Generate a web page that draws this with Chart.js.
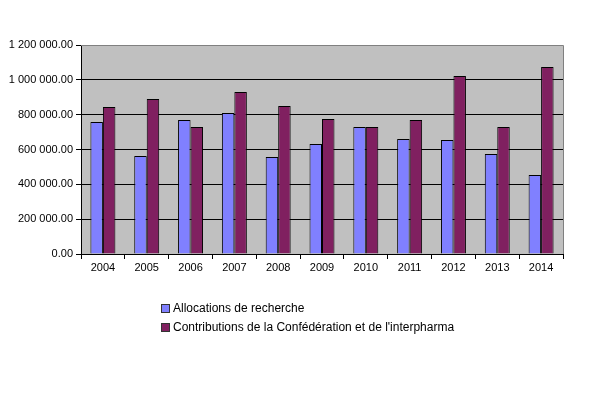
<!DOCTYPE html>
<html>
<head>
<meta charset="utf-8">
<script src="https://cdn.jsdelivr.net/npm/chart.js@4"></script>
<style>
  body { margin: 0; background: #fff; }
  #wrap { position: relative; width: 604px; height: 411px; }
  #legend { position: absolute; left: 161px; top: 299px; font: 12px "Liberation Sans", Arial, sans-serif; color: #000; }
  #legend div { height: 19px; line-height: 19px; white-space: nowrap; }
  #legend span { display: inline-block; width: 7px; height: 7px; border: 1px solid #333; margin-right: 3px; vertical-align: -1px; }
</style>
</head>
<body>
<div id="wrap">
  <canvas id="myChart" width="604" height="411"></canvas>
  <div id="legend"></div>
</div>
<script>
    const years = ['2004', '2005', '2006', '2007', '2008', '2009', '2010', '2011', '2012', '2013', '2014']
    const allocations = [758000, 563000, 769000, 809000, 557000, 631000, 729000, 660000, 654000, 574000, 453000]
    const contributions = [844000, 890000, 729000, 930000, 850000, 775000, 729000, 769000, 1022000, 729000, 1073000]
    const seriesNames = ['Allocations de recherche', "Contributions de la Confédération et de l'interpharma"]
    const seriesColors = ['#8080FF', '#802060']

    // "1 200 000.00" style
    function fmt(v) {
      let s = Math.round(v).toString().replace(/\B(?=(\d{3})+(?!\d))/g, ' ')
      return s + '.00'
    }

    // grey plot background + grey top/right frame
    const plotFrame = {
      id: 'plotFrame',
      beforeDraw(chart) {
        const a = chart.chartArea
        const ctx = chart.ctx
        ctx.save()
        ctx.fillStyle = '#C0C0C0'
        ctx.fillRect(a.left, a.top, a.right - a.left, a.bottom - a.top)
        ctx.restore()
      },
      afterDraw(chart) {
        const a = chart.chartArea
        const ctx = chart.ctx
        ctx.save()
        ctx.strokeStyle = '#808080'
        ctx.lineWidth = 1
        ctx.beginPath()
        ctx.moveTo(a.left, a.top + 0.5)
        ctx.lineTo(a.right + 0.5, a.top + 0.5)
        ctx.lineTo(a.right + 0.5, a.bottom)
        ctx.stroke()
        ctx.restore()
      }
    }

    const data = {
      labels: years,
      datasets: [
        {
          label: seriesNames[0],
          data: allocations,
          backgroundColor: seriesColors[0],
          borderColor: '#000',
          borderWidth: 1,
          categoryPercentage: 0.57,
          barPercentage: 1.0
        },
        {
          label: seriesNames[1],
          data: contributions,
          backgroundColor: seriesColors[1],
          borderColor: '#000',
          borderWidth: 1,
          categoryPercentage: 0.57,
          barPercentage: 1.0
        }
      ]
    }

    const config = {
      type: 'bar',
      data: data,
      plugins: [plotFrame],
      options: {
        responsive: false,
        animation: false,
        layout: { padding: { left: 0, top: 45, right: 41, bottom: 135 } },
        plugins: {
          legend: { display: false },
          tooltip: { enabled: false }
        },
        scales: {
          x: {
            grid: { drawOnChartArea: false, drawTicks: true, tickLength: 5, color: '#000', offset: true },
            border: { color: '#000', width: 1 },
            ticks: { color: '#000', font: { family: 'Liberation Sans', size: 11 }, padding: 2, maxRotation: 0 },
            afterFit(scale) { scale.height = 22 }
          },
          y: {
            min: 0,
            max: 1200000,
            grid: { color: '#000', tickLength: 5, lineWidth: 1 },
            border: { color: '#000', width: 1 },
            ticks: {
              stepSize: 200000,
              color: '#000',
              font: { family: 'Liberation Sans', size: 11 },
              padding: 3,
              callback: v => fmt(v)
            },
            afterFit(scale) { scale.width = 81 }
          }
        }
      }
    }

    const myChart = new Chart(document.getElementById('myChart'), config)

    let legend = document.getElementById('legend')
    for (let i = 0; i < seriesNames.length; i++) {
      let row = document.createElement('div')
      let box = document.createElement('span')
      box.style.background = seriesColors[i]
      row.appendChild(box)
      row.appendChild(document.createTextNode(seriesNames[i]))
      legend.appendChild(row)
    }
</script>
</body>
</html>
